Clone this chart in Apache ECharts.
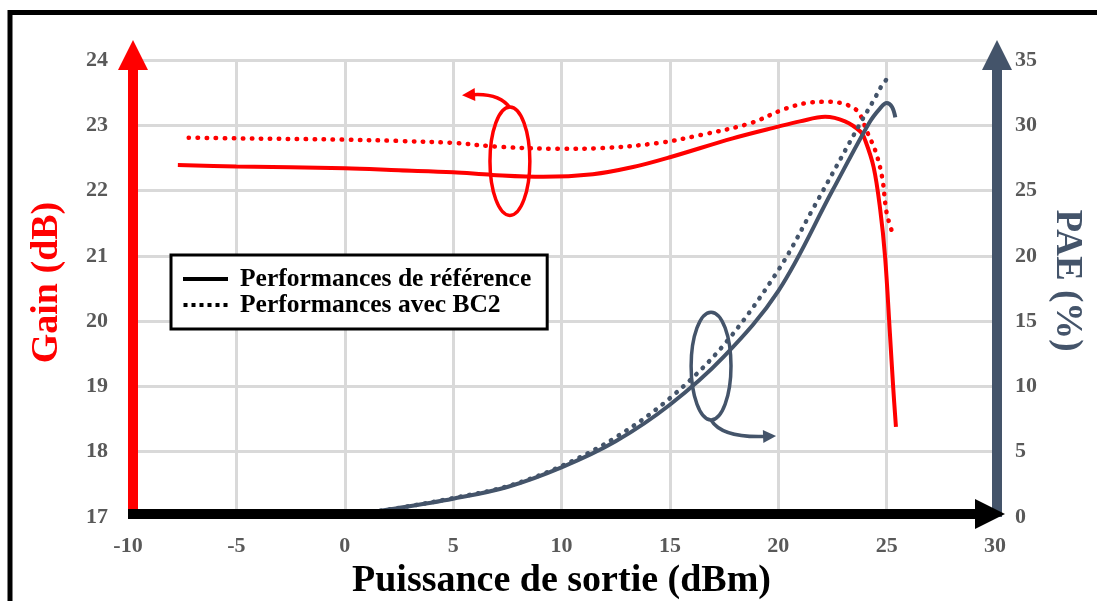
<!DOCTYPE html>
<html>
<head>
<meta charset="utf-8">
<script src="https://cdn.jsdelivr.net/npm/echarts@6/dist/echarts.min.js"></script>
<style>
html,body{margin:0;padding:0;background:#fff;}
#chart{width:1097px;height:601px;}
</style>
</head>
<body>
<div id="chart"></div>
<script>
// ---- Data ----
const xTicks = [-10, -5, 0, 5, 10, 15, 20, 25, 30];
const gainTicks = [17, 18, 19, 20, 21, 22, 23, 24];
const paeTicks = [0, 5, 10, 15, 20, 25, 30, 35];

const seriesNames = ['Performances de référence', 'Performances avec BC2'];

// Gain (dB) - reference (solid red)
const gainRef = [
  [-7.7, 22.39], [-5, 22.37], [0, 22.34], [2.5, 22.31], [5, 22.28], [6.8, 22.24],
  [9.15, 22.21], [11.45, 22.25], [13.3, 22.36], [15, 22.51], [17.9, 22.80], [20, 22.98],
  [21, 23.06], [22.16, 23.13], [23.08, 23.06], [23.8, 22.9], [24.0, 22.78], [24.4, 22.36],
  [24.7, 21.72], [24.93, 20.98], [25.15, 19.82], [25.3, 19.0], [25.43, 18.38]
];
// Gain (dB) - BC2 (dotted red)
const gainBC2 = [
  [-7.2, 22.81], [-5, 22.80], [0, 22.78], [2.5, 22.76], [5, 22.73], [7.15, 22.67],
  [9.9, 22.64], [11.8, 22.65], [14.5, 22.73], [16.4, 22.85], [18.7, 23.03], [20.3, 23.25],
  [21.5, 23.35], [22.4, 23.36], [23.2, 23.31], [23.7, 23.2], [24.1, 22.9], [24.5, 22.59],
  [24.8, 22.19], [25.0, 21.66], [25.3, 21.32]
];
// PAE (%) - reference (solid slate)
const paeRef = [
  [0, 0.1], [2.5, 0.7], [5, 1.4], [7.5, 2.3], [10, 3.8], [12.5, 5.8], [15, 8.6],
  [17.5, 12.3], [20, 17.3], [22.5, 25.0], [24.2, 30.2], [24.7, 31.3], [25.0, 31.7],
  [25.25, 31.4], [25.4, 30.6]
];
// PAE (%) - BC2 (dotted slate)
const paeBC2 = [
  [0, 0.1], [2.5, 0.7], [5, 1.45], [7.5, 2.35], [10, 3.9], [12.5, 6.1], [15, 9.1],
  [17.5, 13.2], [20, 18.9], [21.6, 23.6], [23.8, 30.2], [24.4, 31.9], [24.8, 33.1], [25.1, 33.7]
];

// Annotations (data units): ellipse [cx, cy, rx, ry], arrow [start, control, tip]
const gainEllipse = [7.62, 22.45, 0.92, 0.83];
const gainArrow = [[7.62, 23.265], [7.16, 23.49], [5.41, 23.46]];
const paeEllipse = [16.9, 11.56, 0.92, 4.13];
const paeArrow = [[16.9, 7.43], [17.4, 6.05], [19.9, 6.2]];

// ---- Styles ----
const RED = '#FF0000';
const SLATE = '#44546A';
const LABEL = '#595959';
const GRIDC = '#D9D9D9';
const FONT = "'Liberation Serif', 'Times New Roman', serif";
const DOT = [0.5, 8.5];

function annot(ell, arrow, color) {
  return function (params, api) {
    const c = api.coord([ell[0], ell[1]]);
    const e = api.coord([ell[0] + ell[2], ell[1] + ell[3]]);
    const rx = Math.abs(e[0] - c[0]), ry = Math.abs(e[1] - c[1]);
    const p = arrow.map(a => api.coord(a));
    const dx = p[2][0] - p[1][0], dy = p[2][1] - p[1][1];
    const L = Math.hypot(dx, dy) || 1;
    const ux = dx / L, uy = dy / L;
    const hl = 13, hw = 6.5;
    const base = [p[2][0] - ux * hl, p[2][1] - uy * hl];
    return {
      type: 'group',
      children: [
        { type: 'ellipse', shape: { cx: c[0], cy: c[1], rx: rx, ry: ry },
          style: { fill: 'none', stroke: color, lineWidth: 3.5 } },
        { type: 'bezierCurve', shape: { x1: p[0][0], y1: p[0][1], cpx1: p[1][0], cpy1: p[1][1], x2: base[0] + ux * 2, y2: base[1] + uy * 2 },
          style: { fill: 'none', stroke: color, lineWidth: 3.5 } },
        { type: 'polygon', shape: { points: [p[2], [base[0] - uy * hw, base[1] + ux * hw], [base[0] + uy * hw, base[1] - ux * hw]] },
          style: { fill: color } }
      ]
    };
  };
}

const hiddenAxisParts = {
  axisLine: { show: false }, axisTick: { show: false }, axisLabel: { show: false }
};

const chart = echarts.init(document.getElementById('chart'), null, { renderer: 'canvas' });

const option = {
  backgroundColor: '#ffffff',
  animation: false,
  graphic: [
    { type: 'rect', z: 100, silent: true,
      shape: { x: 10, y: 12.5, width: 1200, height: 700 },
      style: { fill: 'none', stroke: '#000', lineWidth: 5 } }
  ],
  grid: { left: 128, right: 102, top: 60, bottom: 84, containLabel: false, outerBoundsMode: 'none' },
  legend: {
    show: true,
    data: [
      { name: seriesNames[0], icon: 'rect' },
      { name: seriesNames[1], icon: 'path://M0,0h4v4h-4z M8,0h4v4h-4z M16,0h4v4h-4z M24,0h4v4h-4z M32,0h4v4h-4z M40,0h4v4h-4z' }
    ],
    orient: 'vertical',
    left: 171, top: 255,
    padding: [11, 16, 11, 12],
    itemGap: 0,
    itemWidth: 45, itemHeight: 4,
    selectedMode: false,
    backgroundColor: '#fff',
    borderColor: '#000', borderWidth: 3, borderRadius: 0,
    itemStyle: { color: '#000' },
    textStyle: { fontFamily: FONT, fontWeight: 'bold', fontSize: 25.5, color: '#000', lineHeight: 23, padding: [0, 0, 0, 7] },
    z: 20
  },
  xAxis: [
    {
      type: 'value', min: -10, max: 30, interval: 5,
      offset: -3, z: 10,
      name: 'Puissance de sortie (dBm)', nameLocation: 'middle', nameGap: 35,
      nameTextStyle: { fontFamily: FONT, fontWeight: 'bold', fontSize: 38, color: '#000' },
      axisLine: { show: true, onZero: false, lineStyle: { color: '#000', width: 10, cap: 'butt' }, symbol: ['none', 'triangle'], symbolSize: [30, 30], symbolOffset: [0, -5] },
      axisTick: { show: false },
      axisLabel: { margin: 21, fontFamily: FONT, fontWeight: 'bold', fontSize: 22, color: LABEL,
        formatter: v => xTicks.includes(v) ? String(v) : '' },
      splitLine: { show: false }
    },
    Object.assign({
      type: 'value', min: -10, max: 30, interval: 5, z: 0,
      splitLine: { show: true, showMinLine: false, showMaxLine: false, lineStyle: { color: GRIDC, width: 3 } }
    }, hiddenAxisParts)
  ],
  yAxis: [
    {
      type: 'value', min: 17, max: 24, interval: 1, position: 'left', offset: -5, z: 9,
      name: 'Gain (dB)', nameLocation: 'middle', nameGap: 67, nameRotate: 90,
      nameTextStyle: { fontFamily: FONT, fontWeight: 'bold', fontSize: 38, color: RED, padding: [0, 0, 0, 12] },
      axisLine: { show: true, onZero: false, lineStyle: { color: RED, width: 10, cap: 'butt' }, symbol: ['none', 'triangle'], symbolSize: [30, 30], symbolOffset: [0, 5] },
      axisTick: { show: false },
      axisLabel: { margin: 25, fontFamily: FONT, fontWeight: 'bold', fontSize: 22, color: LABEL,
        formatter: v => gainTicks.includes(v) ? String(v) : '' },
      splitLine: { show: false }
    },
    {
      type: 'value', min: 0, max: 35, interval: 5, position: 'right', offset: 2, z: 9,
      name: 'PAE (%)', nameLocation: 'middle', nameGap: 35, nameRotate: -90,
      nameTextStyle: { fontFamily: FONT, fontWeight: 'bold', fontSize: 37, color: SLATE, padding: [0, 16, 0, 0] },
      axisLine: { show: true, onZero: false, lineStyle: { color: SLATE, width: 10, cap: 'butt' }, symbol: ['none', 'triangle'], symbolSize: [30, 30], symbolOffset: [0, 5] },
      axisTick: { show: false },
      axisLabel: { margin: 18, fontFamily: FONT, fontWeight: 'bold', fontSize: 22, color: LABEL,
        formatter: v => paeTicks.includes(v) ? String(v) : '' },
      splitLine: { show: false }
    },
    Object.assign({
      type: 'value', min: 17, max: 24, interval: 1, position: 'left', z: 0,
      splitLine: { show: true, showMinLine: false, lineStyle: { color: GRIDC, width: 3 } }
    }, hiddenAxisParts)
  ],
  series: [
    { name: seriesNames[0], type: 'line', data: [], color: '#000', symbol: 'none', lineStyle: { color: '#000' } },
    { name: seriesNames[1], type: 'line', data: [], color: '#000', symbol: 'none', lineStyle: { color: '#000' } },
    { type: 'line', yAxisIndex: 0, data: gainRef, smooth: 0.35, symbol: 'none', z: 3,
      lineStyle: { color: RED, width: 4 } },
    { type: 'line', yAxisIndex: 0, data: gainBC2, smooth: 0.35, symbol: 'none', z: 3,
      lineStyle: { color: RED, width: 4.5, type: DOT, cap: 'round' } },
    { type: 'line', yAxisIndex: 1, data: paeRef, smooth: 0.35, symbol: 'none', z: 3,
      lineStyle: { color: SLATE, width: 4 } },
    { type: 'line', yAxisIndex: 1, data: paeBC2, smooth: 0.35, symbol: 'none', z: 3,
      lineStyle: { color: SLATE, width: 4.5, type: DOT, cap: 'round' } },
    { type: 'custom', yAxisIndex: 0, data: [[gainEllipse[0], gainEllipse[1]]], clip: false, z: 4,
      renderItem: annot(gainEllipse, gainArrow, RED) },
    { type: 'custom', yAxisIndex: 1, data: [[paeEllipse[0], paeEllipse[1]]], clip: false, z: 4,
      renderItem: annot(paeEllipse, paeArrow, SLATE) }
  ]
};
chart.setOption(option);
</script>
</body>
</html>
